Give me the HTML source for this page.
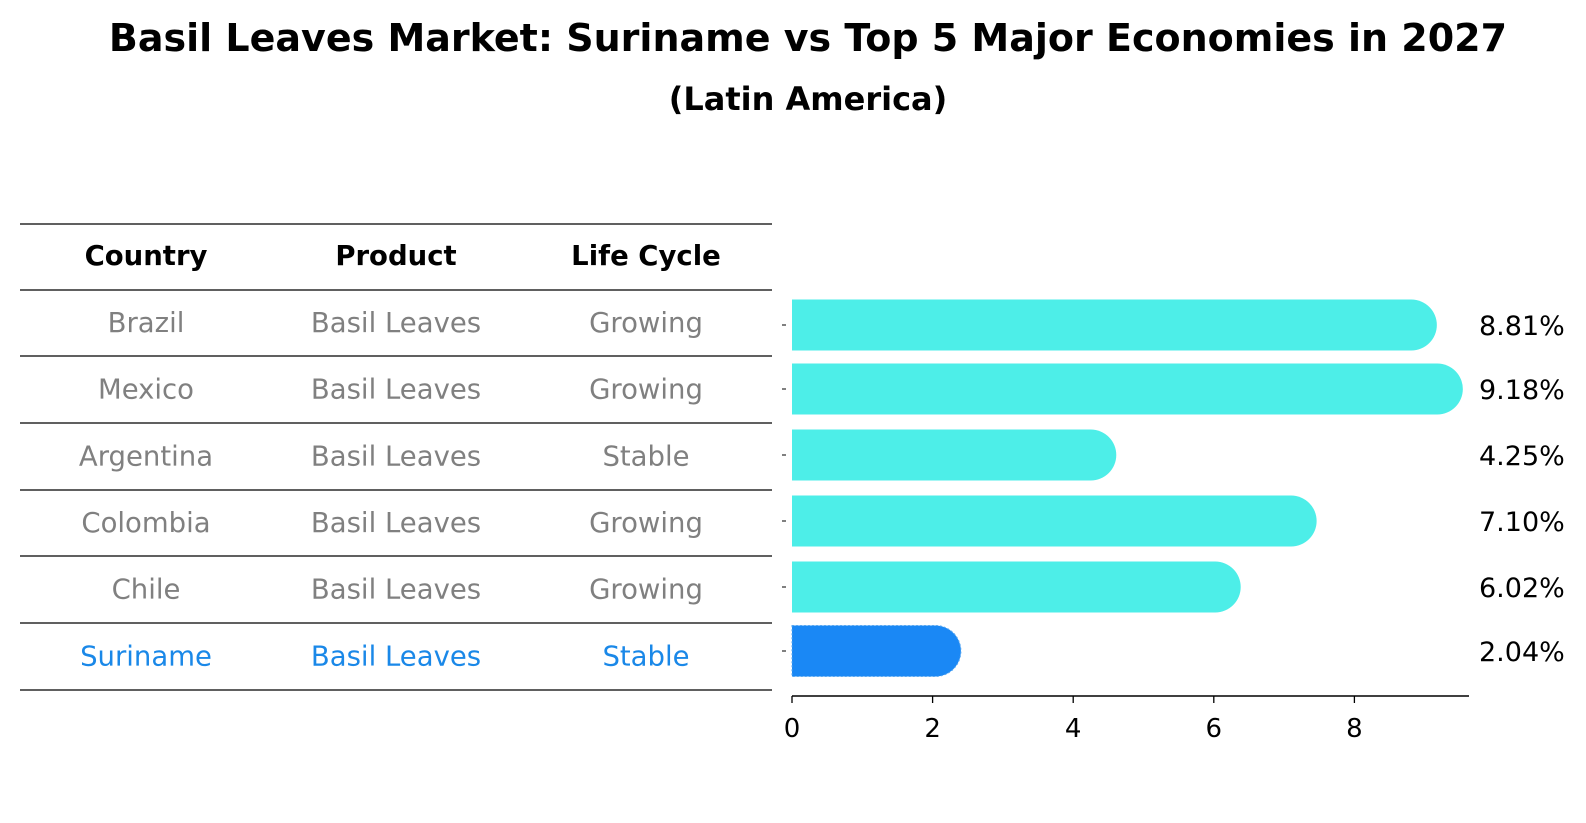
<!DOCTYPE html>
<html><head><meta charset="utf-8"><style>
body{margin:0;background:#fff;font-family:"DejaVu Sans","Liberation Sans",sans-serif;}
svg{display:block}
</style></head><body>
<svg width="1586" height="823" viewBox="0 0 1586 823">
<text x="808" y="51" text-anchor="middle" font-size="38" font-weight="bold">Basil Leaves Market: Suriname vs Top 5 Major Economies in 2027</text>
<text x="808" y="110" text-anchor="middle" font-size="32" font-weight="bold">(Latin America)</text>
<g id="table"></g>
<g id="bars"></g>
</svg>
<script>
const countries=["Brazil","Mexico","Argentina","Colombia","Chile","Suriname"];
const products=["Basil Leaves","Basil Leaves","Basil Leaves","Basil Leaves","Basil Leaves","Basil Leaves"];
const lifeCycles=["Growing","Growing","Stable","Growing","Growing","Stable"];
const values=[8.81,9.18,4.25,7.10,6.02,2.04];
const valueLabels=["8.81%","9.18%","4.25%","7.10%","6.02%","2.04%"];
const ticks=[0,2,4,6,8];
const NS="http://www.w3.org/2000/svg";
function mk(t,a,p){const e=document.createElementNS(NS,t);for(const k in a)e.setAttribute(k,a[k]);p.appendChild(e);return e;}
const tb=document.getElementById('table'),bg=document.getElementById('bars');
const lineYs=[224,290,356,423,490,556,623,690];
const colX=[146,396,646];
const rowY=i=>(lineYs[i+1]+lineYs[i+2])/2;
lineYs.forEach((y,i)=>{const l=mk('line',{x1:20,x2:772,y1:y,y2:y,stroke:'#000','stroke-width':1.2},tb);

});
["Country","Product","Life Cycle"].forEach((h,j)=>{const t=mk('text',{x:colX[j],y:(lineYs[0]+lineYs[1])/2+8,'text-anchor':'middle','font-size':27.5,'font-weight':'bold'},tb);t.textContent=h;

});
countries.forEach((c,i)=>{const col=i===countries.length-1?'#1a88e8':'#808080';
[c,products[i],lifeCycles[i]].forEach((v,j)=>{const t=mk('text',{x:colX[j],y:rowY(i)+9,'text-anchor':'middle','font-size':27.5,fill:col},tb);t.textContent=v;

});});
const x0=792,ppu=70.3,xs=v=>x0+v*ppu,barH=51,r=25.5;
const barY=[325,389,455,521,587,651];
values.forEach((v,i)=>{const cy=barY[i],x1=xs(v);const col=i===values.length-1?'#1a88f5':'#4deee8';
const p=mk('path',{d:`M${x0},${cy-barH/2} H${x1} A${r},${r} 0 0 1 ${x1},${cy+barH/2} H${x0} Z`,fill:col},bg);
if(i===values.length-1){p.setAttribute('stroke','#5aa8f0');p.setAttribute('stroke-dasharray','2,2');p.setAttribute('stroke-width','1');}


const yt=mk('line',{x1:x0-10,x2:x0-6,y1:cy,y2:cy,stroke:'#000','stroke-width':1},bg);


const t=mk('text',{x:1479,y:cy+10,'font-size':27},bg);t.textContent=valueLabels[i];

});
const ax=mk('line',{x1:x0,x2:1469,y1:696,y2:696,stroke:'#000','stroke-width':1.5},bg);


ticks.forEach(v=>{const l=mk('line',{x1:xs(v),x2:xs(v),y1:696,y2:703,stroke:'#000','stroke-width':1.3},bg);


const t=mk('text',{x:xs(v),y:737,'text-anchor':'middle','font-size':26},bg);t.textContent=v;

});
</script>
</body></html>
